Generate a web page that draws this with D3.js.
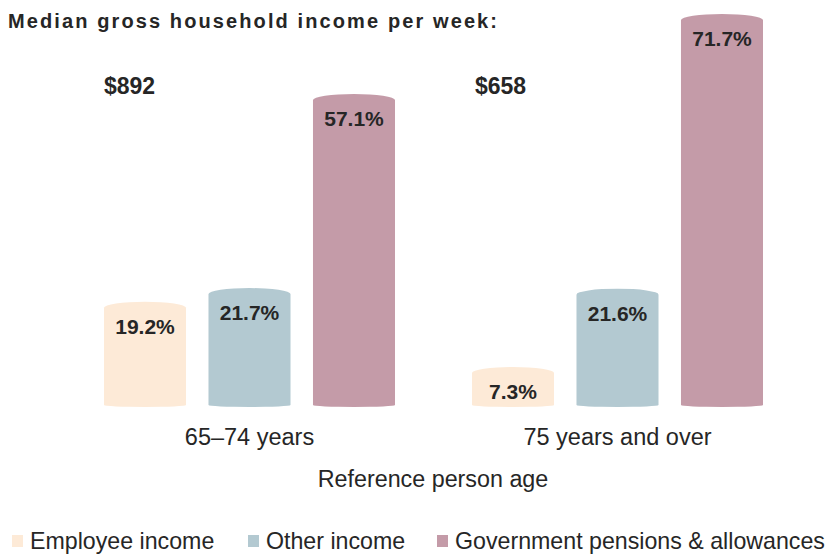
<!DOCTYPE html>
<html>
<head>
<meta charset="utf-8">
<script src="https://cdn.jsdelivr.net/npm/d3@7"></script>
<style>
  body { margin: 0; background: #fff; }
  text { font-family: "Liberation Sans", Arial, sans-serif; fill: #262626; }
</style>
</head>
<body>
<svg id="chart"></svg>
<script>
const ageGroups = ["65–74 years", "75 years and over"];
const medianIncome = ["$892", "$658"];
const seriesNames = ["Employee income", "Other income", "Government pensions & allowances"];
const employeeIncome = [19.2, 7.3];
const otherIncome = [21.7, 21.6];
const governmentPensions = [57.1, 71.7];
const colors = ["#fdead7", "#b3c9d1", "#c49ba8"];

const width = 833, height = 557;
const svg = d3.select("#chart").attr("width", width).attr("height", height);

const seriesValues = [employeeIncome, otherIncome, governmentPensions];
const data = [];
ageGroups.forEach((g, gi) => {
    seriesNames.forEach((s, si) => {
        data.push({ group: g, series: s, si: si, value: seriesValues[si][gi] });
    });
});

const x0 = d3.scaleBand().domain(ageGroups).range([65.5, 801.5]).padding(0);
const x1 = d3.scaleBand().domain(seriesNames)
    .range([38.5, x0.bandwidth() - 38.5])
    .paddingInner(0.215).paddingOuter(0);
const y = d3.scaleLinear().domain([0, 74.27]).range([407, 0]);

// title
svg.append("text")
    .attr("x", 8).attr("y", 28)
    .attr("textLength", 489).attr("lengthAdjust", "spacing")
    .style("font-size", "20px").style("font-weight", "bold")
    .text("Median gross household income per week:");

// cylinder-ish bars: elliptical top, slightly rounded bottom
const capTop = 6, capBot = 2;
function barPath(d) {
    const x = x0(d.group) + x1(d.series);
    const w = x1.bandwidth();
    const yt = y(d.value) + capTop;
    const yb = y(0) - capBot;
    return "M" + x + "," + yt +
        " A" + (w / 2) + "," + capTop + " 0 0 1 " + (x + w) + "," + yt +
        " L" + (x + w) + "," + yb +
        " A" + (w / 2) + "," + capBot + " 0 0 1 " + x + "," + yb + " Z";
}

svg.append("g").selectAll("path")
    .data(data)
    .join("path")
    .attr("d", barPath)
    .attr("fill", d => colors[d.si]);

svg.append("g").selectAll("text")
    .data(data)
    .join("text")
    .attr("x", d => x0(d.group) + x1(d.series) + x1.bandwidth() / 2)
    .attr("y", d => y(d.value) + 32)
    .attr("text-anchor", "middle")
    .style("font-size", "21px").style("font-weight", "bold")
    .text(d => d.value.toFixed(1) + "%");

// median income labels
svg.append("g").selectAll("text")
    .data(ageGroups)
    .join("text")
    .attr("x", (d, i) => x0(d) + x1(seriesNames[0]) + (i === 0 ? 0 : 3))
    .attr("y", 94)
    .style("font-size", "23px").style("font-weight", "bold")
    .text((d, i) => medianIncome[i]);

// category labels
svg.append("g").selectAll("text")
    .data(ageGroups)
    .join("text")
    .attr("x", d => x0(d) + x0.bandwidth() / 2)
    .attr("y", 445)
    .attr("text-anchor", "middle")
    .style("font-size", "23.5px")
    .text(d => d);

svg.append("text")
    .attr("x", 433).attr("y", 487)
    .attr("text-anchor", "middle")
    .style("font-size", "23.3px")
    .text("Reference person age");

// legend
const legendX = [12, 248, 437];
const legend = svg.append("g").selectAll("g")
    .data(seriesNames)
    .join("g")
    .attr("transform", (d, i) => "translate(" + legendX[i] + ",0)");
legend.append("rect")
    .attr("x", 0).attr("y", 535)
    .attr("width", 11).attr("height", 12)
    .attr("fill", (d, i) => colors[i]);
legend.append("text")
    .attr("x", 18).attr("y", 549)
    .style("font-size", "23.2px")
    .text(d => d);
</script>
</body>
</html>
